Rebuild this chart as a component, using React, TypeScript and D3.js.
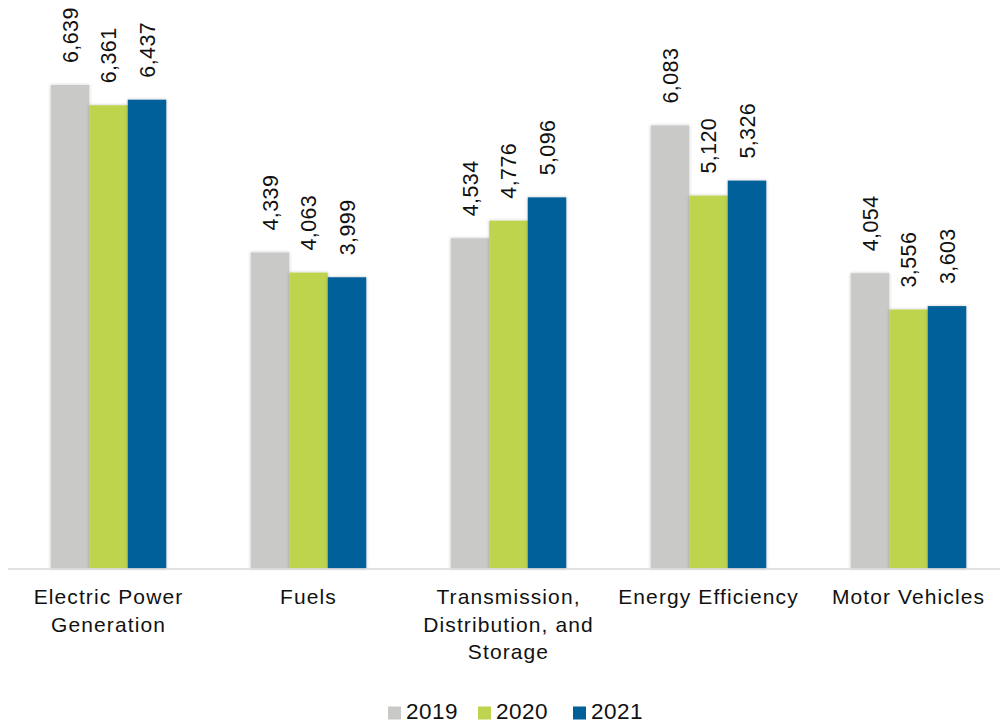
import React from "react";
import * as d3 from "d3";

const categories: string[][] = [
  ["Electric Power", "Generation"],
  ["Fuels"],
  ["Transmission,", "Distribution, and", "Storage"],
  ["Energy Efficiency"],
  ["Motor Vehicles"],
];
const years = ["2019", "2020", "2021"];
const values2019 = [6639, 4339, 4534, 6083, 4054];
const values2020 = [6361, 4063, 4776, 5120, 3556];
const values2021 = [6437, 3999, 5096, 5326, 3603];
const seriesValues = [values2019, values2020, values2021];
const colors = ["#c9c9c8", "#bed44e", "#01609a"];

const W = 1000;
const H = 723;

export default function App() {
  const keys = categories.map((_, i) => String(i));
  const pad = 0.4225;
  const x0 = d3
    .scaleBand<string>()
    .domain(keys)
    .range([8.5, 1008.5])
    .paddingInner(pad)
    .paddingOuter(pad / 2);
  const x1 = d3.scaleBand<string>().domain(years).range([0, x0.bandwidth()]);
  const y = d3.scaleLinear().domain([0, 7000]).range([568.5, 58.7]);
  const fmt = d3.format(",");
  const font = "'Liberation Sans', Arial, sans-serif";

  const legendItems = [
    { x: 388, label: years[0], c: colors[0] },
    { x: 478, label: years[1], c: colors[1] },
    { x: 573, label: years[2], c: colors[2] },
  ];

  return (
    <svg
      width={W}
      height={H}
      style={{ position: "absolute", left: 0, top: 0, background: "#fff" }}
      fontFamily={font}
    >
      <defs>
        <filter id="sh" x="-20%" y="-5%" width="140%" height="110%">
          <feDropShadow dx="0" dy="0" stdDeviation="1.5" floodColor="#000" floodOpacity="0.25" />
        </filter>
      </defs>
      {keys.map((k, ci) => (
        <g key={k} transform={`translate(${x0(k)},0)`}>
          {years.map((yr, si) => {
            const v = seriesValues[si][ci];
            const bx = x1(yr)!;
            const bw = x1.bandwidth();
            return (
              <g key={yr}>
                <rect
                  x={bx}
                  y={y(v)}
                  width={bw}
                  height={y(0) - y(v)}
                  fill={colors[si]}
                  filter="url(#sh)"
                />
                <text
                  transform={`translate(${bx + bw / 2},${y(v) - 22}) rotate(-90)`}
                  dy="0.36em"
                  fontSize={21.5}
                  fill="#111"
                  letterSpacing={0.4}
                >
                  {fmt(v)}
                </text>
              </g>
            );
          })}
        </g>
      ))}
      <line x1={8} x2={1000} y1={569} y2={569} stroke="#d9d9d9" strokeWidth={1.6} />
      {keys.map((k, ci) => (
        <text
          key={"c" + k}
          x={x0(k)! + x0.bandwidth() / 2}
          y={604}
          textAnchor="middle"
          fontSize={21}
          letterSpacing={1.1}
          fill="#111"
        >
          {categories[ci].map((line, li) => (
            <tspan key={li} x={x0(k)! + x0.bandwidth() / 2} dy={li === 0 ? 0 : 27.5}>
              {line}
            </tspan>
          ))}
        </text>
      ))}
      {legendItems.map((it) => (
        <g key={it.label}>
          <rect x={it.x} y={706.5} width={13} height={13} fill={it.c} />
          <text x={it.x + 18} y={719} fontSize={22.5} fill="#111" letterSpacing={0.5}>
            {it.label}
          </text>
        </g>
      ))}
    </svg>
  );
}
